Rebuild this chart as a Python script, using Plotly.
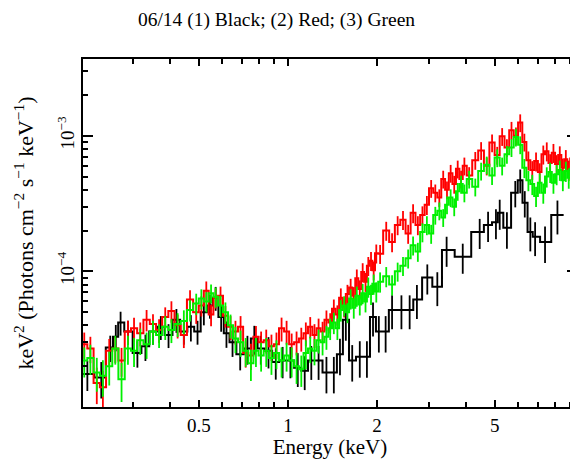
import math
import plotly.graph_objects as go

title_text = "06/14 (1) Black; (2) Red; (3) Green"
x_label = "Energy (keV)"
y_label = "keV<sup>2</sup> (Photons cm<sup>−2</sup> s<sup>−1</sup> keV<sup>−1</sup>)"

x_tick_vals = [0.5, 1, 2, 5]
x_tick_text = ["0.5", "1", "2", "5"]
x_minor_vals = [0.2, 0.3, 0.4, 0.6, 0.7, 0.8, 0.9, 3, 4, 6, 7, 8, 9]
y_tick_vals = [1e-4, 1e-3]
y_tick_text = ["10<sup>−4</sup>", "10<sup>−3</sup>"]
y_minor_vals = [2e-5, 3e-5, 4e-5, 5e-5, 6e-5, 7e-5, 8e-5, 9e-5,
                2e-4, 3e-4, 4e-4, 5e-4, 6e-4, 7e-4, 8e-4, 9e-4, 2e-3, 3e-3]

# ---- (1) Black ----
black_energy = [0.21, 0.234, 0.251, 0.262, 0.272, 0.288, 0.31, 0.33, 0.35, 0.372,
                0.395, 0.42, 0.445, 0.47, 0.495, 0.52, 0.545, 0.57, 0.595, 0.62,
                0.65, 0.69, 0.73, 0.77, 0.81, 0.86, 0.91, 0.96, 1.02, 1.08,
                1.14, 1.2, 1.27, 1.35, 1.43, 1.5, 1.57, 1.65, 1.75, 1.85,
                1.94, 2.03, 2.14, 2.25, 2.42, 2.58, 2.73, 2.96, 3.2, 3.44,
                3.9, 4.45, 4.75, 5.05, 5.2, 5.5, 5.87, 6.1, 6.32, 6.6,
                6.85, 7.4, 8.15]
black_flux = [1.75e-5, 1.65e-5, 2.75e-5, 3.3e-5, 4.2e-5, 3.6e-5, 2.5e-5, 2.8e-5, 3.6e-5, 3.9e-5,
              3.4e-5, 4.4e-5, 3.6e-5, 3.9e-5, 3.6e-5, 5.0e-5, 5.6e-5, 6.4e-5, 4.6e-5, 3.5e-5,
              3.0e-5, 2.45e-5, 2.7e-5, 3.2e-5, 2.7e-5, 2.6e-5, 2.15e-5, 2.2e-5, 2.2e-5, 1.95e-5,
              1.85e-5, 2.2e-5, 2.2e-5, 1.8e-5, 1.8e-5, 2.45e-5, 4.4e-5, 2.2e-5, 2.35e-5, 2.35e-5,
              4.6e-5, 3.6e-5, 3.6e-5, 5.2e-5, 5.2e-5, 5.2e-5, 6.2e-5, 9.0e-5, 7.7e-5, 1.44e-4,
              1.28e-4, 1.95e-4, 2.2e-4, 2.3e-4, 2.7e-4, 2.1e-4, 3.8e-4, 4.7e-4, 3.2e-4, 1.95e-4,
              1.8e-4, 1.65e-4, 2.6e-4]
black_err = [0.25, 0.3, 0.22, 0.22, 0.2, 0.2, 0.22, 0.22, 0.2, 0.2,
             0.2, 0.2, 0.2, 0.22, 0.2, 0.2, 0.2, 0.2, 0.22, 0.22,
             0.22, 0.24, 0.24, 0.24, 0.24, 0.26, 0.26, 0.26, 0.26, 0.28,
             0.28, 0.28, 0.28, 0.3, 0.3, 0.3, 0.3, 0.3, 0.3, 0.3,
             0.28, 0.3, 0.3, 0.28, 0.28, 0.28, 0.28, 0.25, 0.28, 0.25,
             0.25, 0.25, 0.25, 0.25, 0.25, 0.3, 0.22, 0.2, 0.22, 0.28,
             0.28, 0.3, 0.28]

# ---- (2) Red and (3) Green share the same energy grid ----
rg_energy = [0.205, 0.215, 0.226, 0.237, 0.249, 0.261, 0.274, 0.288, 0.302, 0.317,
             0.333, 0.350, 0.367, 0.385, 0.404, 0.424, 0.445, 0.467, 0.490, 0.510,
             0.530, 0.550, 0.570, 0.592, 0.615, 0.640, 0.665, 0.692, 0.720, 0.750,
             0.780, 0.812, 0.845, 0.880, 0.915, 0.952, 0.990,
             1.03, 1.07, 1.11, 1.15, 1.19, 1.23, 1.27, 1.31, 1.35, 1.39,
             1.43, 1.47, 1.51, 1.55, 1.59, 1.63, 1.67, 1.71, 1.75, 1.79,
             1.83, 1.87, 1.91, 1.95, 1.99,
             2.05, 2.15, 2.25, 2.35, 2.45, 2.55, 2.65, 2.75, 2.85, 2.95,
             3.05, 3.15, 3.25, 3.35, 3.45, 3.55, 3.65, 3.75, 3.85, 3.95,
             4.1, 4.3, 4.5, 4.7, 4.9, 5.1, 5.3, 5.5, 5.7, 5.9,
             6.1, 6.3, 6.5, 6.7, 6.9, 7.1, 7.3, 7.5, 7.7, 7.9,
             8.1, 8.3, 8.5, 8.7, 8.9, 9.1, 9.3]

red_flux = [2.9e-5, 2.7e-5, 1.5e-5, 1.4e-5, 2.6e-5, 2.7e-5, 2.2e-5, 3.6e-5, 3.8e-5, 3.5e-5,
            4.4e-5, 4.1e-5, 3.7e-5, 4.6e-5, 5.1e-5, 4.0e-5, 3.4e-5, 6.2e-5, 5.0e-5, 5.6e-5,
            7.2e-5, 4.8e-5, 6.4e-5, 6.6e-5, 4.7e-5, 3.9e-5, 3.6e-5, 3.9e-5, 2.5e-5, 2.4e-5,
            3.3e-5, 3.0e-5, 3.1e-5, 2.8e-5, 2.9e-5, 3.8e-5, 3.6e-5,
            2.9e-5, 3.0e-5, 3.2e-5, 3.5e-5, 3.9e-5, 3.4e-5, 3.8e-5, 3.6e-5, 4.4e-5, 4.2e-5,
            5.3e-5, 4.8e-5, 6.4e-5, 5.5e-5, 6.8e-5, 7.6e-5, 6.6e-5, 8.9e-5, 7.4e-5, 9.9e-5,
            8.4e-5, 1.1e-4, 1.2e-4, 1.02e-4, 1.36e-4,
            1.35e-4, 2.0e-4, 1.65e-4, 2.2e-4, 2.4e-4, 1.9e-4, 2.7e-4, 2.2e-4, 2.6e-4, 3.1e-4,
            4.1e-4, 3.8e-4, 3.5e-4, 4.8e-4, 4.0e-4, 5.3e-4, 4.4e-4, 5.7e-4, 4.8e-4, 6.0e-4,
            5.1e-4, 6.6e-4, 7.8e-4, 6.0e-4, 8.9e-4, 7.2e-4, 9.9e-4, 8.2e-4, 1.1e-3, 1.0e-3,
            1.25e-3, 9.0e-4, 6.6e-4, 5.6e-4, 6.5e-4, 5.4e-4, 7.3e-4, 7.7e-4, 6.3e-4, 7.5e-4,
            6.2e-4, 7.2e-4, 5.8e-4, 6.7e-4, 5.6e-4, 6.8e-4, 6.0e-4]
red_err = [0.22, 0.22, 0.3, 0.32, 0.22, 0.22, 0.24, 0.2, 0.2, 0.2,
           0.18, 0.18, 0.2, 0.18, 0.18, 0.2, 0.2, 0.17, 0.18, 0.17,
           0.17, 0.18, 0.17, 0.17, 0.18, 0.2, 0.2, 0.2, 0.22, 0.22,
           0.2, 0.2, 0.2, 0.22, 0.22, 0.2, 0.2,
           0.2, 0.2, 0.2, 0.2, 0.18, 0.2, 0.18, 0.18, 0.17, 0.17,
           0.17, 0.17, 0.17, 0.17, 0.17, 0.16, 0.16, 0.16, 0.16, 0.16,
           0.16, 0.16, 0.16, 0.16, 0.16,
           0.16, 0.16, 0.16, 0.16, 0.16, 0.16, 0.16, 0.16, 0.16, 0.16,
           0.15, 0.15, 0.15, 0.15, 0.15, 0.15, 0.15, 0.15, 0.15, 0.15,
           0.15, 0.15, 0.15, 0.15, 0.15, 0.15, 0.15, 0.15, 0.15, 0.15,
           0.15, 0.15, 0.16, 0.16, 0.16, 0.16, 0.16, 0.16, 0.16, 0.16,
           0.16, 0.16, 0.17, 0.17, 0.17, 0.17, 0.17]

green_flux = [2.2e-5, 2.3e-5, 1.8e-5, 1.7e-5, 2.0e-5, 2.7e-5, 1.6e-5, 2.7e-5, 2.6e-5, 3.1e-5,
              2.9e-5, 3.6e-5, 3.4e-5, 3.9e-5, 3.7e-5, 4.1e-5, 4.3e-5, 5.2e-5, 5.8e-5, 6.3e-5,
              6.0e-5, 6.9e-5, 6.5e-5, 5.6e-5, 5.0e-5, 4.0e-5, 3.2e-5, 3.0e-5, 2.6e-5, 2.1e-5,
              2.6e-5, 2.4e-5, 2.6e-5, 2.3e-5, 2.5e-5, 2.2e-5, 2.4e-5,
              2.2e-5, 2.0e-5, 1.9e-5, 2.5e-5, 2.7e-5, 2.6e-5, 3.1e-5, 3.0e-5, 3.3e-5, 3.8e-5,
              4.2e-5, 3.8e-5, 5.2e-5, 5.6e-5, 5.0e-5, 6.3e-5, 5.4e-5, 6.6e-5, 5.7e-5, 6.9e-5,
              6.0e-5, 7.7e-5, 6.8e-5, 8.1e-5, 7.1e-5,
              8.4e-5, 9.2e-5, 8.0e-5, 1.0e-4, 1.1e-4, 1.25e-4, 1.56e-4, 1.4e-4, 1.95e-4, 2.2e-4,
              1.9e-4, 2.6e-4, 2.8e-4, 2.5e-4, 3.1e-4, 3.5e-4, 3.0e-4, 3.9e-4, 4.4e-4, 3.8e-4,
              4.8e-4, 4.2e-4, 5.5e-4, 6.1e-4, 5.1e-4, 6.9e-4, 6.0e-4, 7.3e-4, 8.2e-4, 9.8e-4,
              8.6e-4, 5.8e-4, 4.7e-4, 4.4e-4, 3.6e-4, 4.5e-4, 3.8e-4, 5.0e-4, 5.4e-4, 4.5e-4,
              5.2e-4, 5.6e-4, 4.7e-4, 5.5e-4, 4.9e-4, 5.7e-4, 5.0e-4]
green_err = [0.25, 0.25, 0.28, 0.3, 0.28, 0.24, 0.32, 0.24, 0.24, 0.22,
             0.22, 0.2, 0.2, 0.2, 0.2, 0.2, 0.2, 0.18, 0.18, 0.17,
             0.17, 0.16, 0.17, 0.18, 0.18, 0.2, 0.22, 0.22, 0.24, 0.26,
             0.24, 0.24, 0.24, 0.25, 0.24, 0.25, 0.24,
             0.25, 0.26, 0.26, 0.24, 0.22, 0.22, 0.2, 0.2, 0.2, 0.18,
             0.18, 0.18, 0.18, 0.17, 0.17, 0.17, 0.17, 0.17, 0.17, 0.17,
             0.17, 0.17, 0.17, 0.17, 0.17,
             0.17, 0.17, 0.17, 0.16, 0.16, 0.16, 0.16, 0.16, 0.16, 0.16,
             0.16, 0.15, 0.15, 0.15, 0.15, 0.15, 0.15, 0.15, 0.15, 0.15,
             0.15, 0.15, 0.15, 0.15, 0.15, 0.15, 0.15, 0.15, 0.15, 0.15,
             0.15, 0.16, 0.17, 0.17, 0.17, 0.17, 0.17, 0.17, 0.17, 0.17,
             0.17, 0.17, 0.17, 0.17, 0.17, 0.17, 0.17]

series = [
    ("(1) Black", black_energy, black_flux, black_err, "#000000"),
    ("(2) Red", rg_energy, red_flux, red_err, "#ff0000"),
    ("(3) Green", rg_energy, green_flux, green_err, "#00f000"),
]


def bin_edges(centers):
    lg = [math.log10(c) for c in centers]
    mids = [(a + b) / 2 for a, b in zip(lg[:-1], lg[1:])]
    first = lg[0] - (mids[0] - lg[0])
    last = lg[-1] + (lg[-1] - mids[-1])
    return [10 ** v for v in [first] + mids + [last]]


fig = go.Figure()
for name, en, fl, er, col in series:
    edges = bin_edges(en)
    fig.add_trace(go.Scatter(
        x=edges, y=list(fl) + [fl[-1]], mode="lines", line_shape="hv",
        line=dict(color=col, width=2), name=name, showlegend=False, hoverinfo="skip"))
    fig.add_trace(go.Scatter(
        x=en, y=fl, mode="markers", marker=dict(size=1, color=col),
        error_y=dict(type="data", symmetric=False,
                     array=[f * e for f, e in zip(fl, er)],
                     arrayminus=[f * e for f, e in zip(fl, er)],
                     color=col, thickness=1.8, width=0),
        name=name, showlegend=False))

# The page body adds an 8 px offset, so the figure is 8 px smaller than the window.
W, H = 570, 451
serif = "Liberation Serif"
fig.update_layout(
    width=W, height=H,
    margin=dict(l=75, r=1, t=51, b=52, autoexpand=False),
    paper_bgcolor="white", plot_bgcolor="white",
    font=dict(family=serif, color="black"),
    title=dict(text=title_text, x=268.5 / W, xref="container", xanchor="center",
               y=1 - 11 / H, yref="container", yanchor="middle",
               font=dict(family=serif, size=19.5, color="black")),
)
fig.update_xaxes(
    type="log", range=[math.log10(0.203), math.log10(9.49)], automargin=False,
    showline=True, linecolor="black", linewidth=1.5, mirror="ticks",
    showgrid=False, zeroline=False,
    tickmode="array", tickvals=x_tick_vals, ticktext=x_tick_text,
    ticks="inside", ticklen=7, tickwidth=1.5, tickcolor="black",
    tickfont=dict(family=serif, size=19, color="black"),
    minor=dict(tickmode="array", tickvals=x_minor_vals, ticks="inside",
               ticklen=5, tickwidth=1.5, tickcolor="black", showgrid=False),
    title=dict(text=x_label, font=dict(family=serif, size=21, color="black"), standoff=10),
)
fig.update_yaxes(
    type="log", range=[-5, math.log10(3.68e-3)], automargin=False,
    showline=True, linecolor="black", linewidth=1.5, mirror="ticks",
    showgrid=False, zeroline=False,
    tickmode="array", tickvals=y_tick_vals, ticktext=y_tick_text, tickangle=-90,
    ticks="inside", ticklen=10, tickwidth=1.5, tickcolor="black",
    tickfont=dict(family=serif, size=19, color="black"),
    minor=dict(tickmode="array", tickvals=y_minor_vals, ticks="inside",
               ticklen=5, tickwidth=1.5, tickcolor="black", showgrid=False),
    title=dict(text=y_label, font=dict(family=serif, size=22, color="black"), standoff=14),
)

fig.write_html("out.html")
